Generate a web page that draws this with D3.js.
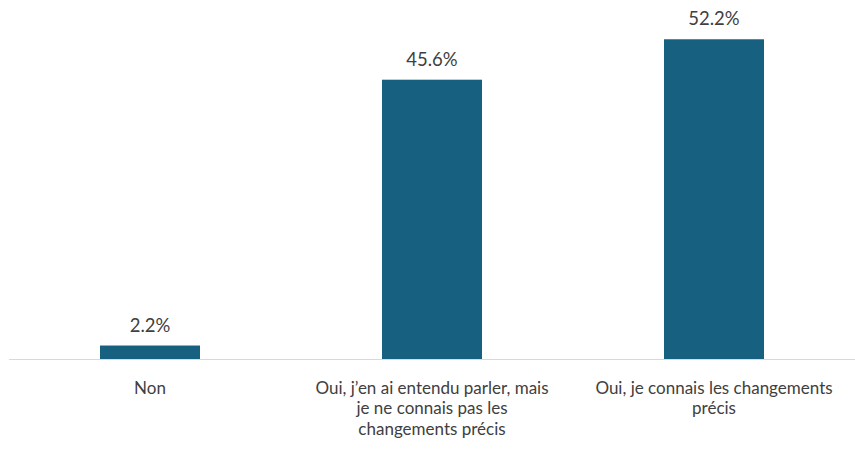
<!DOCTYPE html>
<html><head><meta charset="utf-8">
<script src="https://cdn.jsdelivr.net/npm/d3@7"></script>
<style>body{margin:0;background:#fff}svg{display:block}</style>
</head><body>
<script>
const categories = ["Non", "Oui, j’en ai entendu parler, mais je ne connais pas les changements précis", "Oui, je connais les changements précis"];
const categoryLines = [["Non"], ["Oui, j’en ai entendu parler, mais", "je ne connais pas les", "changements précis"], ["Oui, je connais les changements", "précis"]];
const values = [2.2, 45.6, 52.2];
const valueLabels = ["2.2%", "45.6%", "52.2%"];

const W = 855, H = 449;
const svg = d3.select("body").append("svg").attr("width", W).attr("height", H);
const font = "Lato, 'Open Sans', sans-serif";
const x = d3.scaleBand().domain(categories).range([9, 855]).paddingInner(0.6454).paddingOuter(0.3227);
const y = d3.scaleLinear().domain([0, 55]).range([359, 359 - 6.125 * 55]);

svg.selectAll("rect.bar").data(values).join("rect")
  .attr("x", (d, i) => x(categories[i]))
  .attr("width", x.bandwidth())
  .attr("y", d => y(d))
  .attr("height", d => y(0) - y(d))
  .attr("fill", "#17607f");

svg.append("line").attr("x1", 9).attr("x2", 855).attr("y1", y(0) + 0.5).attr("y2", y(0) + 0.5)
  .attr("stroke", "#d9d9d9").attr("stroke-width", 1.2);

svg.selectAll("text.val").data(values).join("text")
  .attr("x", (d, i) => x(categories[i]) + x.bandwidth() / 2)
  .attr("y", d => y(d) - 14)
  .attr("text-anchor", "middle").attr("font-family", font).attr("font-size", 18.5).attr("fill", "#404040")
  .text((d, i) => valueLabels[i]);

categoryLines.forEach((lines, i) => {
  const t = svg.append("text").attr("text-anchor", "middle").attr("font-family", font).attr("font-size", 17).attr("fill", "#404040");
  lines.forEach((l, j) => t.append("tspan").attr("x", x(categories[i]) + x.bandwidth() / 2).attr("y", 393.5 + j * 20.5).text(l));
});
</script>
</body></html>
